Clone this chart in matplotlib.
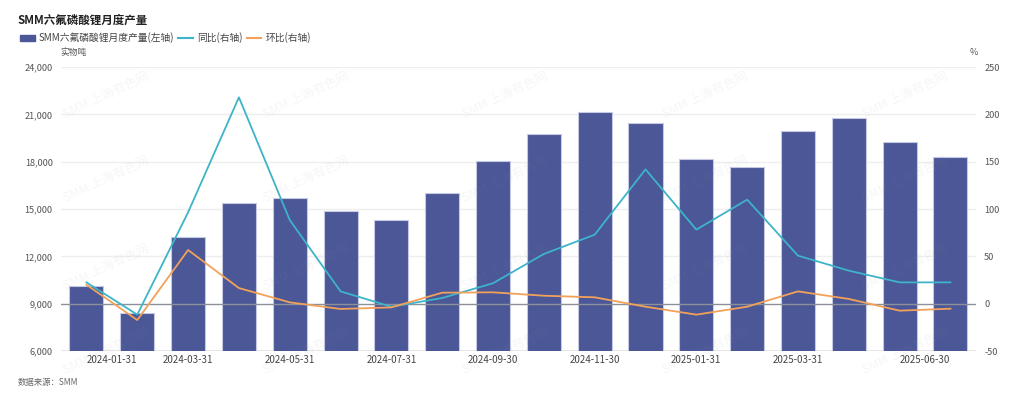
import matplotlib
matplotlib.use("Agg")
import matplotlib.pyplot as plt
from matplotlib.patches import Patch
from matplotlib.lines import Line2D

plt.rcParams['font.family'] = ['Noto Sans CJK SC', 'DejaVu Sans']

months = ["2024-01-31", "2024-02-29", "2024-03-31", "2024-04-30", "2024-05-31", "2024-06-30",
          "2024-07-31", "2024-08-31", "2024-09-30", "2024-10-31", "2024-11-30", "2024-12-31",
          "2025-01-31", "2025-02-28", "2025-03-31", "2025-04-30", "2025-05-31", "2025-06-30"]
output = [10150, 8390, 13200, 15400, 15680, 14850, 14320, 16010, 18040,
          19750, 21150, 20450, 18150, 17680, 19960, 20770, 19270, 18310]
yoy = [22.5, -11.6, 96.5, 218, 88.4, 13, -3.2, 6, 21.6,
       52.5, 72.9, 141.9, 78.2, 109.9, 50.7, 34.9, 22.5, 22.5]
mom = [20, -17.3, 56.7, 16.5, 1.4, -5.6, -3.9, 11.6, 12,
       8.4, 6.7, -3.2, -11.6, -3.2, 13, 5, -7.4, -5.3]
shown_ticks = [0, 2, 4, 6, 8, 10, 12, 14, 17]
left_ticks = [6000, 9000, 12000, 15000, 18000, 21000, 24000]
right_ticks = [-50, 0, 50, 100, 150, 200, 250]

BAR = '#4b5797'
YOY_C = '#3db4c9'
MOM_C = '#f2a15a'

fig = plt.figure(figsize=(10.24, 3.99), dpi=100)
ax = fig.add_axes([0.0596, 0.1203, 0.8934, 0.7117])
ax2 = ax.twinx()

x = list(range(len(months)))
ax.bar(x, output, width=0.67, color=BAR, edgecolor='#c5c9e3', linewidth=0.8, zorder=2)
ax.set_ylim(6000, 24000)
ax.set_xlim(-0.5, len(months) - 0.5)
ax.set_yticks(left_ticks)
ax.set_yticklabels([f"{v:,}" for v in left_ticks])
for v in left_ticks:
    if v != 9000:
        ax.axhline(v, color='#eeeeee', lw=1, zorder=0)

ax2.set_ylim(-50, 250)
ax2.set_yticks(right_ticks)
ax2.set_yticklabels([str(v) for v in right_ticks])
ax2.axhline(0, color='#8d9099', lw=1, zorder=1)
ax2.plot(x, yoy, color=YOY_C, lw=1.3, zorder=4)
ax2.plot(x, mom, color=MOM_C, lw=1.3, zorder=4)

ax.set_zorder(ax2.get_zorder() - 1)
ax.patch.set_visible(True)
ax.patch.set_facecolor('white')
ax2.patch.set_visible(False)

for a in (ax, ax2):
    for s in a.spines.values():
        s.set_visible(False)
    a.tick_params(axis='y', length=0, labelsize=6.6, colors='#555555', pad=6)
ax.axhline(6000, color='#e2e2e2', lw=1.2, zorder=1)

ax.set_xticks([x[i] for i in shown_ticks])
labels = ax.set_xticklabels([months[i] for i in shown_ticks], fontsize=7, color='#444444')
labels[0].set_ha('left')
labels[-1].set_ha('right')
ax.tick_params(axis='x', length=0, pad=3)

fig.text(0.0596 - 0.001, 0.868, '实物吨', fontsize=6.3, color='#555555', ha='left', va='center')
fig.text(0.947, 0.868, '%', fontsize=6.5, color='#555555', ha='left', va='center')

fig.text(0.017, 0.95, 'SMM六氟磷酸锂月度产量', fontsize=8.3, fontweight='bold', color='#222222', ha='left', va='center')

handles = [Patch(facecolor=BAR, edgecolor=BAR),
           Line2D([0], [0], color=YOY_C, lw=1.5),
           Line2D([0], [0], color=MOM_C, lw=1.5)]
fig.legend(handles, ['SMM六氟磷酸锂月度产量(左轴)', '同比(右轴)', '环比(右轴)'],
           loc='center left', bbox_to_anchor=(0.011, 0.905), ncol=3, frameon=False,
           fontsize=7, handlelength=1.5, handleheight=0.5, handletextpad=0.4,
           columnspacing=0.45, labelcolor='#444444')

fig.text(0.017, 0.042, '数据来源：SMM', fontsize=6, style='italic', color='#666666', ha='left', va='center')

# watermark
for row_y in [0.76, 0.55, 0.33, 0.12]:
    for col_x in [0.06, 0.255, 0.45, 0.645, 0.84]:
        fig.text(col_x, row_y, 'SMM 上海有色网', fontsize=9, color='#999999', alpha=0.09,
                 rotation=25, ha='left', va='center', zorder=10)

fig.savefig('out.png', dpi=100, facecolor='white')
